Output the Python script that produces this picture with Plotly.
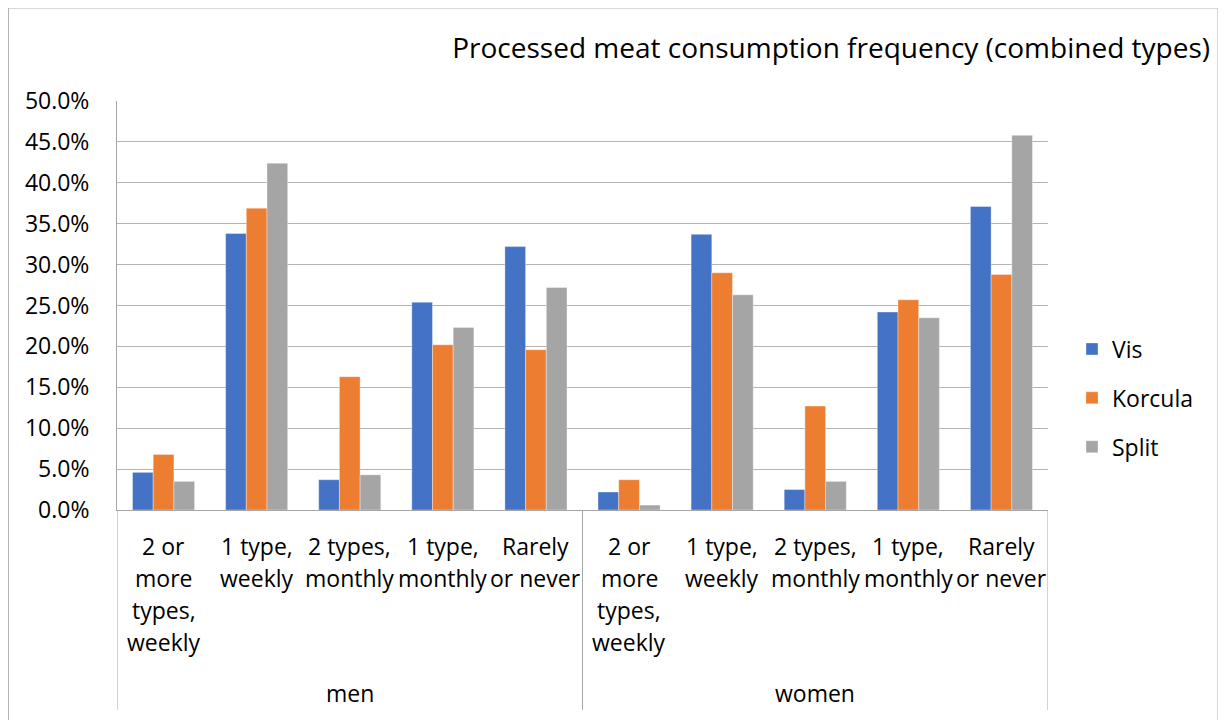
import plotly.graph_objects as go

groups = ["men", "women"]
categories = ["2 or more types, weekly", "1 type, weekly", "2 types, monthly",
              "1 type, monthly", "Rarely or never"]
cat_lines = [["2 or", "more", "types,", "weekly"], ["1 type,", "weekly"],
             ["2 types,", "monthly"], ["1 type,", "monthly"], ["Rarely", "or never"]]

series_names = ["Vis", "Korcula", "Split"]
vis = [0.046, 0.338, 0.037, 0.254, 0.322, 0.022, 0.337, 0.025, 0.242, 0.371]
korcula = [0.068, 0.369, 0.163, 0.202, 0.196, 0.037, 0.290, 0.127, 0.257, 0.288]
split = [0.035, 0.424, 0.043, 0.223, 0.272, 0.006, 0.263, 0.035, 0.235, 0.458]
colors = ["#4472C4", "#ED7D31", "#A5A5A5"]

FONT = "Open Sans"
OFF = 8  # page body margin
W, H = 1226 - OFF, 720 - OFF
L, R, T, B = 117 - OFF, 1048 - OFF, 101 - OFF, 510 - OFF
PW, PH = R - L, B - T

xpos = list(range(len(groups) * len(categories)))

fig = go.Figure()
for i, (name, vals) in enumerate(zip(series_names, [vis, korcula, split])):
    fig.add_trace(go.Bar(x=xpos, y=vals, name=name, marker_color=colors[i],
                         marker_line_color="rgba(255,255,255,0.6)", marker_line_width=0.6,
                         legendgroup=name))

def py(p):
    # p: reference page pixel y
    return (B - (p - OFF)) / PH

def px(p):
    return ((p - OFF) - L) / PW

annotations = []
line_y = [546, 578, 610, 642]
for g, grp in enumerate(groups):
    for c, lines in enumerate(cat_lines):
        xi = g * len(categories) + c
        for k, ln in enumerate(lines):
            annotations.append(dict(x=xi, xref="x", y=py(line_y[k]), yref="paper",
                                    text=ln, showarrow=False, xanchor="center", yanchor="middle",
                                    font=dict(family=FONT, size=23, color="#000000")))
    annotations.append(dict(x=g * len(categories) + (len(categories) - 1) / 2, xref="x",
                            y=py(693), yref="paper", text=grp, showarrow=False,
                            xanchor="center", yanchor="middle",
                            font=dict(family=FONT, size=23, color="#000000")))

shapes = []
for xs in [-0.5, 4.5, 9.5]:
    shapes.append(dict(type="line", xref="x", yref="paper", x0=xs, x1=xs,
                       y0=0, y1=py(710), line=dict(color="#a6a6a6", width=1)))
shapes.append(dict(type="rect", xref="paper", yref="paper", x0=px(8.5), x1=px(1218),
                   y0=py(8), y1=py(740), line=dict(color="#b3b3b3", width=1),
                   fillcolor="rgba(0,0,0,0)", layer="below"))

fig.update_layout(
    width=W, height=H,
    margin=dict(l=L, r=W - R, t=T, b=H - B),
    paper_bgcolor="white", plot_bgcolor="white",
    barmode="group", bargap=0.333, bargroupgap=0,
    font=dict(family=FONT, size=23, color="#000000"),
    title=dict(text="Processed meat consumption frequency (combined types)",
               xref="container", x=(1210 - OFF) / W, xanchor="right",
               yref="container", y=(H - (48 - OFF)) / H, yanchor="middle",
               font=dict(family=FONT, size=28, color="#000000")),
    xaxis=dict(range=[-0.5, 9.5], showticklabels=False, showgrid=False,
               showline=True, linecolor="#a6a6a6", linewidth=1, zeroline=False,
               fixedrange=True),
    yaxis=dict(range=[0, 0.5], dtick=0.05, tickformat=".1%", showgrid=True,
               gridcolor="#b3b3b3", gridwidth=1, zeroline=False,
               showline=True, linecolor="#a6a6a6", linewidth=1,
               ticks="", ticklabelstandoff=22,
               tickfont=dict(family=FONT, size=23, color="#000000")),
    legend=dict(x=px(1072), xanchor="left", y=py(398), yanchor="middle",
                font=dict(family=FONT, size=23, color="#000000"),
                tracegroupgap=16, bgcolor="rgba(0,0,0,0)"),
    annotations=annotations, shapes=shapes,
)

fig.write_html("out.html")
